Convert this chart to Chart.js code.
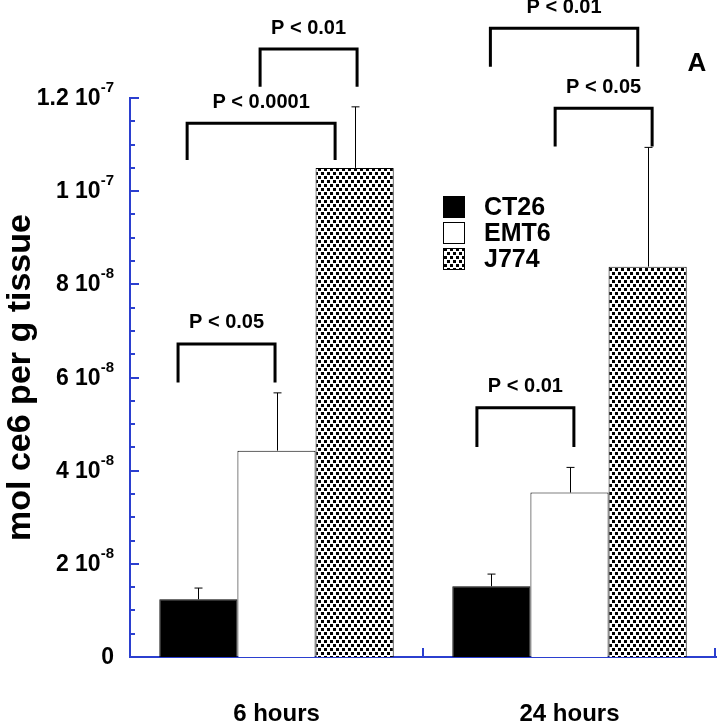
<!DOCTYPE html>
<html>
<head>
<meta charset="utf-8">
<script src="https://cdn.jsdelivr.net/npm/chart.js@4"></script>
<style>
body { margin: 0; background: #fff; }
#wrap { width: 717px; height: 725px; }
</style>
</head>
<body>
<div id="wrap"><canvas id="chart" width="717" height="725"></canvas></div>
<script>
const hours = ['6 hours', '24 hours'];
const ct26 = [1.24e-8, 1.52e-8];
const ct26Err = [0.24e-8, 0.26e-8];
const emt6 = [4.43e-8, 3.53e-8];
const emt6Err = [1.24e-8, 0.54e-8];
const j774 = [1.05e-7, 8.38e-8];
const j774Err = [1.31e-8, 2.56e-8];

const yLabelled = [0, 2e-8, 4e-8, 6e-8, 8e-8, 1e-7, 1.2e-7];

// significance brackets: group, ends (fraction of a category from its centre), top and leg bottom values
const pLabels = ['P < 0.05', 'P < 0.0001', 'P < 0.01', 'P < 0.01', 'P < 0.01', 'P < 0.05'];
const pGroup = [0, 0, 0, 1, 1, 1];
const pFrom = [-0.336, -0.305, -0.056, -0.316, -0.270, -0.049];
const pTo = [-0.005, 0.200, 0.275, 0.015, 0.233, 0.282];
const pTop = [6.72e-8, 1.146e-7, 1.305e-7, 5.35e-8, 1.350e-7, 1.178e-7];
const pFoot = [5.89e-8, 1.067e-7, 1.224e-7, 4.51e-8, 1.267e-7, 1.096e-7];

const FONT = "'Liberation Sans', Arial, Helvetica, sans-serif";
const AXIS = '#2b3fcf';

function dotPattern() {
    const c = document.createElement('canvas');
    c.width = 6; c.height = 8;
    const g = c.getContext('2d');
    g.fillStyle = '#fff';
    g.fillRect(0, 0, 6, 8);
    g.fillStyle = '#000';
    g.fillRect(0, 0, 3, 3);
    g.fillRect(3, 4, 3, 3);
    return g.createPattern(c, 'repeat');
}
const DOTS = dotPattern();

const decor = {
    id: 'decor',
    afterDatasetsDraw(chart) {
        const ctx = chart.ctx;
        const x = chart.scales.x, y = chart.scales.y;
        const area = chart.chartArea;
        ctx.save();

        // upper error bars
        const errs = [ct26Err, emt6Err, j774Err];
        ctx.strokeStyle = '#000';
        ctx.lineWidth = 1;
        chart.data.datasets.forEach(function(ds, i) {
            chart.getDatasetMeta(i).data.forEach(function(bar, j) {
                const top = y.getPixelForValue(ds.data[j] + errs[i][j]);
                const bx = Math.round(bar.x) + 0.5;
                ctx.beginPath();
                ctx.moveTo(bx, bar.y);
                ctx.lineTo(bx, top);
                ctx.moveTo(bx - 4, top);
                ctx.lineTo(bx + 4, top);
                ctx.stroke();
            });
        });

        // axis ticks pointing inwards
        ctx.strokeStyle = AXIS;
        ctx.lineWidth = 2;
        y.ticks.forEach(function(t) {
            const py = Math.round(y.getPixelForValue(t.value));
            const len = Math.round(t.value / 5e-9) % 4 === 0 ? 9 : 5;
            ctx.beginPath();
            ctx.moveTo(area.left, py);
            ctx.lineTo(area.left + len, py);
            ctx.stroke();
        });
        for (let i = 1; i <= hours.length; i++) {
            const px = Math.min(x.getPixelForValue(i - 0.5), area.right - 1);
            ctx.beginPath();
            ctx.moveTo(px, area.bottom);
            ctx.lineTo(px, area.bottom - 9);
            ctx.stroke();
        }

        // y labels like "2 10^-8"
        ctx.fillStyle = '#000';
        ctx.textBaseline = 'alphabetic';
        ctx.textAlign = 'right';
        yLabelled.forEach(function(v) {
            const py = y.getPixelForValue(v);
            const right = area.left - 16;
            let sup = '', main = '0';
            if (v > 0) {
                const e = Math.floor(Math.log10(v) + 1e-9);
                main = String(+(v / Math.pow(10, e)).toFixed(1)) + ' 10';
                sup = String(e);
            }
            ctx.font = 'bold 15px ' + FONT;
            const sw = ctx.measureText(sup).width;
            ctx.fillText(sup, right, py - 6);
            ctx.font = 'bold 23px ' + FONT;
            ctx.fillText(main, right - sw, py + 7);
        });

        // significance brackets
        const cw = x.getPixelForValue(1) - x.getPixelForValue(0);
        ctx.strokeStyle = '#000';
        ctx.lineWidth = 3;
        ctx.lineJoin = 'miter';
        ctx.textAlign = 'center';
        ctx.textBaseline = 'middle';
        ctx.font = 'bold 20px ' + FONT;
        pLabels.forEach(function(lbl, k) {
            const cx = x.getPixelForValue(pGroup[k]);
            const x1 = cx + pFrom[k] * cw, x2 = cx + pTo[k] * cw;
            const yt = y.getPixelForValue(pTop[k]), yb = y.getPixelForValue(pFoot[k]);
            ctx.beginPath();
            ctx.moveTo(x1, yb);
            ctx.lineTo(x1, yt);
            ctx.lineTo(x2, yt);
            ctx.lineTo(x2, yb);
            ctx.stroke();
            ctx.fillText(lbl, (x1 + x2) / 2, yt - 21);
        });

        // legend
        ctx.lineWidth = 1;
        ctx.textAlign = 'left';
        ctx.font = 'bold 25px ' + FONT;
        chart.data.datasets.forEach(function(ds, i) {
            const bx = area.left + 313, by = area.top + 98 + i * 26;
            ctx.fillStyle = ds.backgroundColor;
            ctx.fillRect(bx, by, 22, 22);
            ctx.strokeRect(bx + 0.5, by + 0.5, 21, 21);
            ctx.fillStyle = '#000';
            ctx.fillText(ds.label, bx + 41, by + 12);
        });

        ctx.font = 'bold 26px ' + FONT;
        ctx.textAlign = 'center';
        ctx.fillText('A', area.right - 19, area.top - 34);
        ctx.restore();
    }
};

new Chart(document.getElementById('chart'), {
    type: 'bar',
    data: {
        labels: hours,
        datasets: [
            { label: 'CT26', data: ct26, backgroundColor: '#000' },
            { label: 'EMT6', data: emt6, backgroundColor: '#fff' },
            { label: 'J774', data: j774, backgroundColor: DOTS }
        ].map(function(d) {
            return Object.assign(d, { borderColor: '#000', borderWidth: 1, categoryPercentage: 0.8, barPercentage: 1 });
        })
    },
    options: {
        responsive: false,
        animation: false,
        layout: { padding: { top: 98, right: 1, left: 0, bottom: 0 } },
        plugins: { legend: { display: false }, tooltip: { enabled: false } },
        scales: {
            x: {
                grid: { display: false, drawTicks: false, tickLength: 0 },
                border: { color: AXIS, width: 2 },
                ticks: { color: '#000', padding: 43, font: { family: FONT, size: 24, weight: 'bold' } },
                afterFit: function(s) { s.height = 68; }
            },
            y: {
                min: 0,
                max: 1.2e-7,
                ticks: { display: false, stepSize: 5e-9 },
                grid: { display: false, drawTicks: false, tickLength: 0 },
                border: { color: AXIS, width: 2 },
                title: {
                    display: true,
                    text: 'mol ce6 per g tissue',
                    color: '#000',
                    padding: 0,
                    font: { family: FONT, size: 34, weight: 'bold' }
                },
                afterFit: function(s) { s.width = 130; }
            }
        }
    },
    plugins: [decor]
});
</script>
</body>
</html>
